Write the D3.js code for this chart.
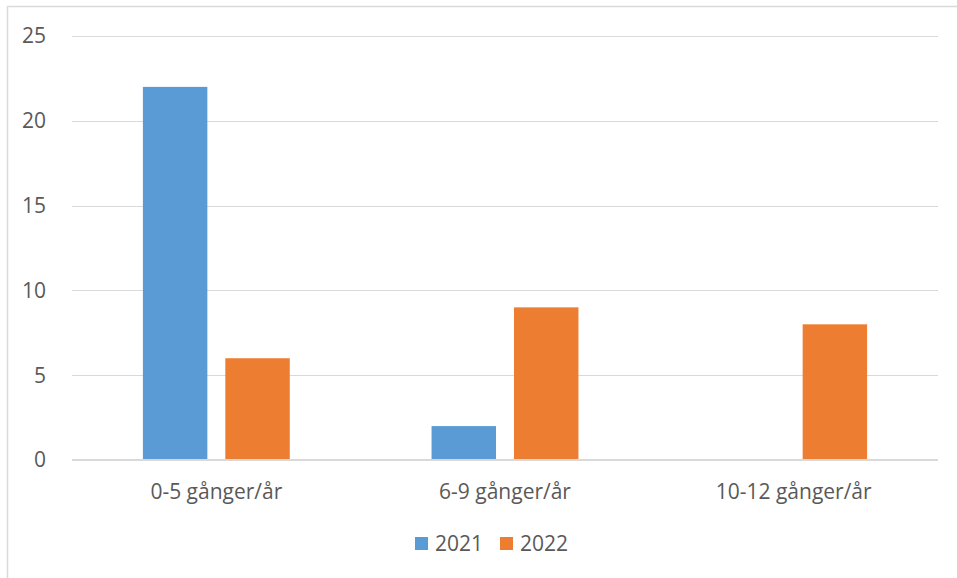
<!DOCTYPE html>
<html>
<head>
<meta charset="utf-8">
<script src="https://cdn.jsdelivr.net/npm/d3@7"></script>
<style>
  body { margin: 0; background: #fff; }
  text { font-family: "Open Sans", sans-serif; fill: #595959; }
</style>
</head>
<body>
<svg id="chart" width="957" height="578"></svg>
<script>
// chart data
var categories = ["0-5 gånger/år", "6-9 gånger/år", "10-12 gånger/år"]
var seriesNames = ["2021", "2022"]
var values2021 = [22, 2, 0]
var values2022 = [6, 9, 8]
var yTicks = [0, 5, 10, 15, 20, 25]
var colors = ["#5B9BD5", "#ED7D31"]

var svg = d3.select("#chart")

// outer chart border (Excel chart area)
svg.append("rect")
   .attr("x", 7.5).attr("y", 6.5)
   .attr("width", 960).attr("height", 580)
   .attr("fill", "none")
   .attr("stroke", "#d9d9d9")
   .attr("stroke-width", 1.5)

var plotLeft = 72, plotRight = 938, plotTop = 36, plotBottom = 460

var x0 = d3.scaleBand().domain(categories).range([plotLeft, plotRight]).padding(0)
var x1 = d3.scaleBand().domain(seriesNames).range([0, x0.bandwidth()])
   .paddingInner(0.218).paddingOuter(0.86)
var y = d3.scaleLinear().domain([0, 25]).range([plotBottom, plotTop])

// gridlines
svg.append("g").selectAll("line")
   .data(yTicks.filter(function(d) { return d > 0 }))
   .enter().append("line")
   .attr("x1", plotLeft).attr("x2", plotRight)
   .attr("y1", function(d) { return Math.round(y(d)) + 0.5 })
   .attr("y2", function(d) { return Math.round(y(d)) + 0.5 })
   .attr("stroke", "#d9d9d9").attr("stroke-width", 1)

// y labels
svg.append("g").selectAll("text")
   .data(yTicks).enter().append("text")
   .attr("x", 46)
   .attr("y", function(d) { return y(d) })
   .attr("dy", "0.35em")
   .attr("text-anchor", "end")
   .attr("font-size", "21px")
   .text(function(d) { return d })

var rows = categories.map(function(c, i) {
   return { cat: c, vals: [values2021[i], values2022[i]] }
})

var groups = svg.append("g").selectAll("g")
   .data(rows).enter().append("g")
   .attr("transform", function(d) { return "translate(" + x0(d.cat) + ",0)" })

groups.selectAll("rect")
   .data(function(d) { return d.vals.map(function(v, j) { return { s: seriesNames[j], v: v, j: j } }) })
   .enter().append("rect")
   .attr("x", function(d) { return x1(d.s) })
   .attr("y", function(d) { return y(d.v) })
   .attr("width", x1.bandwidth())
   .attr("height", function(d) { return y(0) - y(d.v) })
   .attr("fill", function(d) { return colors[d.j] })

// baseline
svg.append("line")
   .attr("x1", plotLeft).attr("x2", plotRight)
   .attr("y1", y(0)).attr("y2", y(0))
   .attr("stroke", "#d9d9d9").attr("stroke-width", 2)

// category labels
svg.append("g").selectAll("text")
   .data(categories).enter().append("text")
   .attr("x", function(d) { return x0(d) + x0.bandwidth() / 2 })
   .attr("y", 499)
   .attr("text-anchor", "middle")
   .attr("font-size", "21px")
   .text(function(d) { return d })

// legend
var legendX = [415, 500]
var legend = svg.append("g").selectAll("g")
   .data(seriesNames).enter().append("g")
   .attr("transform", function(d, i) { return "translate(" + legendX[i] + ",537)" })
legend.append("rect")
   .attr("width", 13).attr("height", 13)
   .attr("fill", function(d, i) { return colors[i] })
legend.append("text")
   .attr("x", 20).attr("y", 6.5).attr("dy", "0.35em")
   .attr("font-size", "21px")
   .text(function(d) { return d })
</script>
</body>
</html>
